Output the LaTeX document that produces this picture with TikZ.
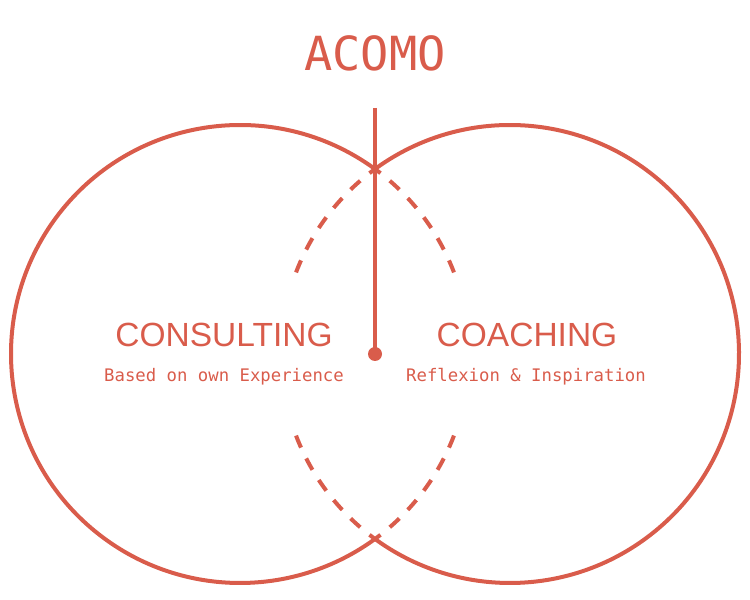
\documentclass[tikz,border=0pt]{standalone}
\usepackage{fontspec}
\setmainfont{Liberation Sans}
\newfontfamily\monofont{DejaVu Sans Mono}
\definecolor{acored}{HTML}{D95C4B}

\begin{document}
\begin{tikzpicture}
	[x=1pt,y=1pt,line width=4pt,color=acored,
	 big/.style={font=\fontsize{33.5}{38}\selectfont,anchor=base,inner sep=0pt},
	 small/.style={font=\monofont\fontsize{17.3}{20}\selectfont,anchor=base,inner sep=0pt},
	 inner/.style={dash pattern=on 13pt off 12pt,dash phase=6pt}]
	\useasboundingbox (0,0) rectangle (750,600);
	\coordinate (lc) at (240,246);
	\coordinate (rc) at (510,246);
	\coordinate (top) at (375,492);
	
	\node[font=\monofont\fontsize{47}{52}\selectfont,anchor=base,inner sep=0pt] (acomo) at (375,529) {ACOMO};
	\node[big] (cons) at (224,253) {CONSULTING};
	\node[small] (consub) at (224,218) {Based on own Experience};
	\node[big] (coach) at (527,253) {COACHING};
	\node[small] (coachsub) at (526,218) {Reflexion \& Inspiration};
	
	\draw ([shift={(53.9:229)}]lc) arc (53.9:306.1:229);
	\draw ([shift={(126.1:229)}]rc) arc (126.1:-126.1:229);
	
	\foreach \c/\a/\b in {lc/53.9/19.4,lc/-53.9/-19.4,rc/126.1/160.6,rc/233.9/199.4}
	\draw[inner] ([shift={(\a:229)}]\c) arc (\a:\b:229);
	
	\node[circle,fill,inner sep=0pt,minimum size=14pt] (dot) at (375,246) {};
	\draw (top) -- (dot.center);
\end{tikzpicture}
\end{document}
